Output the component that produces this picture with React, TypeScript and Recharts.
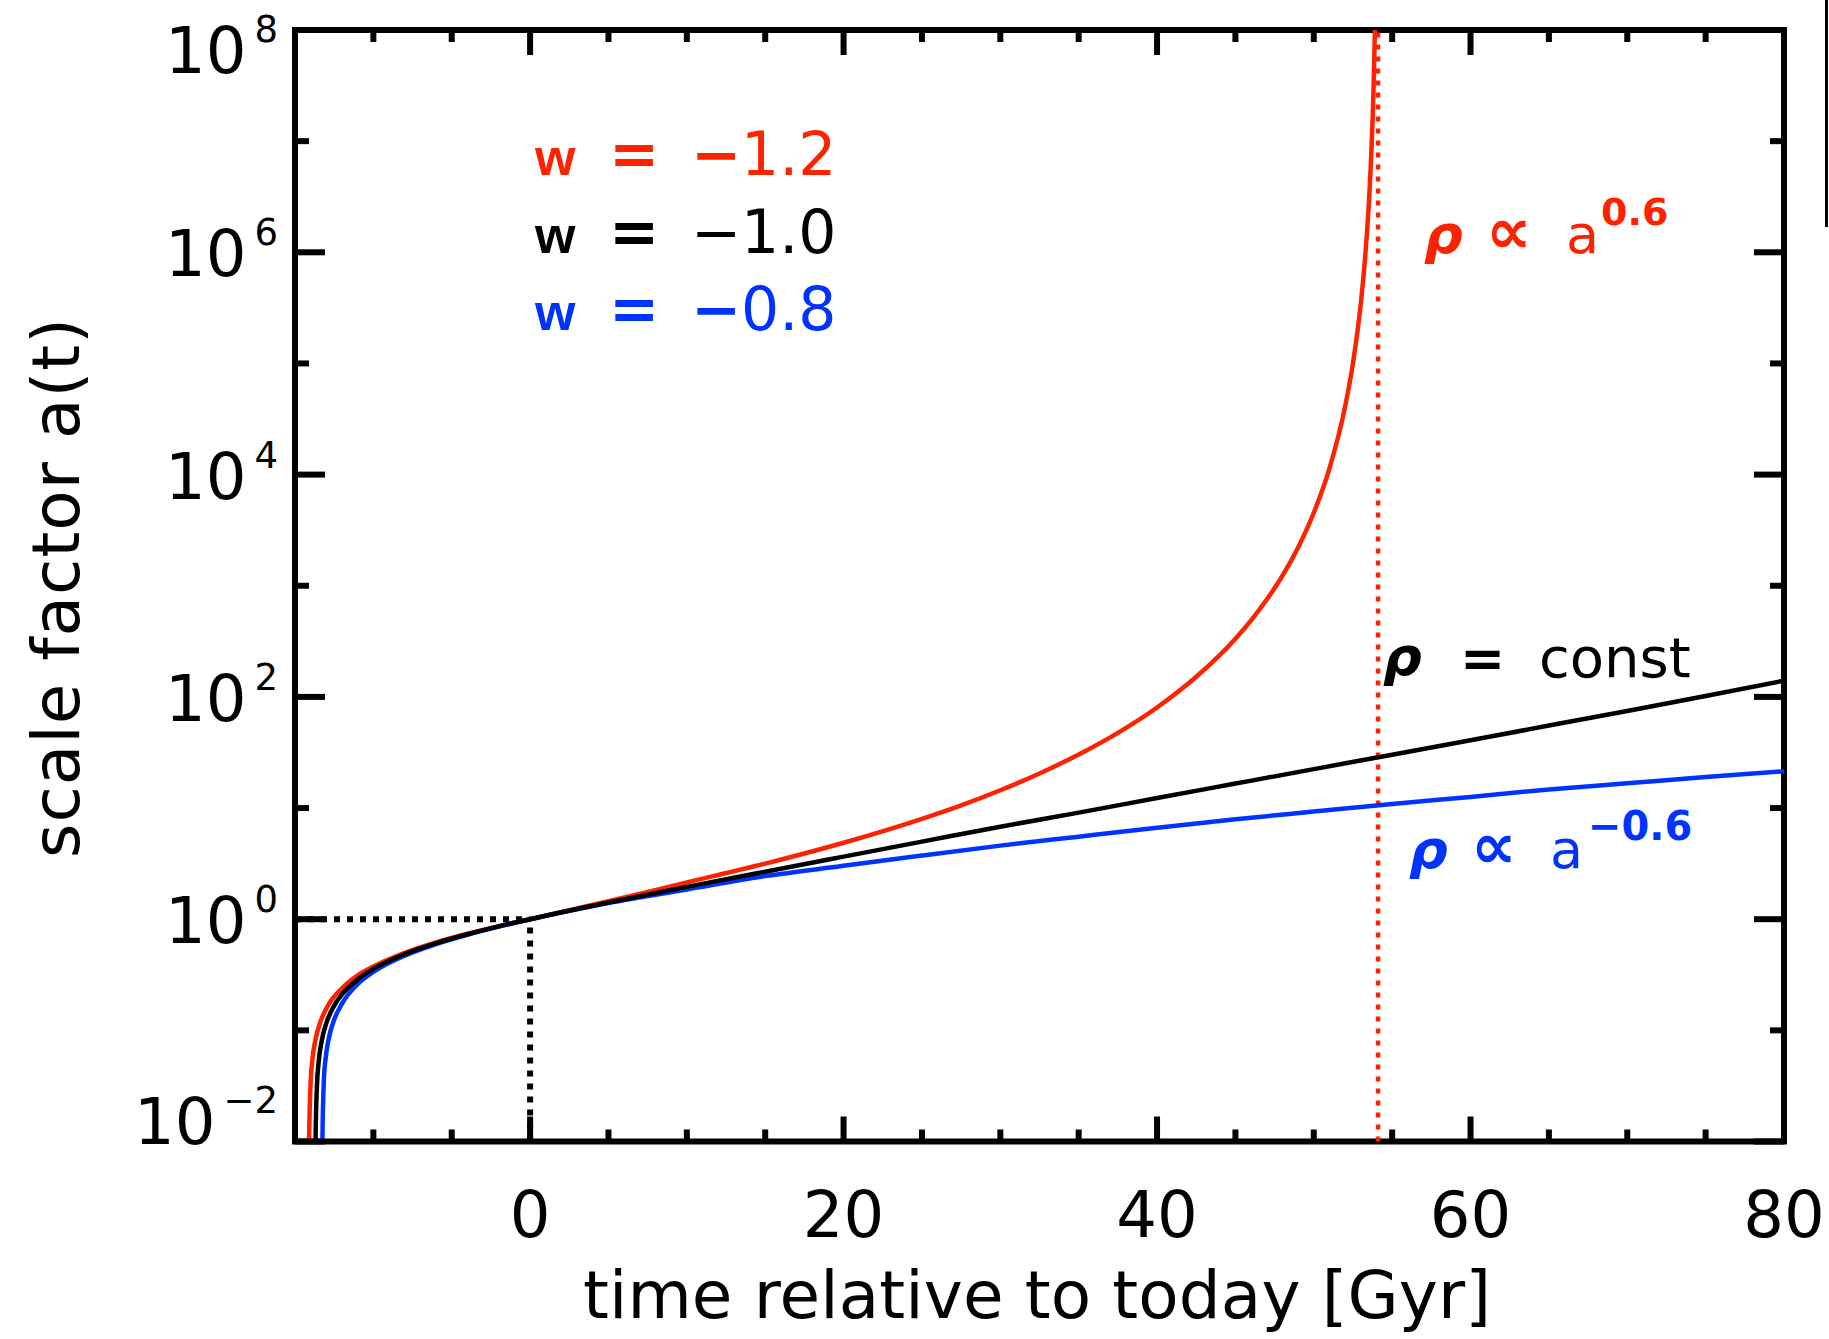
import React from 'react';
import { LineChart, Line, XAxis, YAxis, ReferenceLine, ReferenceArea } from 'recharts';

const W = 1829;
const H = 1339;
const PLOT_LEFT = 295;
const PLOT_RIGHT = 1784;
const PLOT_TOP = 30;
const PLOT_BOTTOM = 1141.5;
const X_AXIS_H = 40;
const Y_AXIS_W = 40;

const FONT = 'DejaVu Sans';
const RED = '#ff2200';
const BLUE = '#0033ff';

// w = -1.2 (big rip), time relative to today [Gyr] -> scale factor
const redTime = [-14.13, -14.1, -14.0, -13.9, -13.7, -13.4, -12.9, -12, -11, -10, -8, -6, -4, -2, 0, 5, 10, 15, 20, 25, 27.5, 30, 32.5, 35, 37.5, 40, 42.5, 45, 46, 47, 48, 49, 50, 51, 52, 52.5, 53, 53.3, 53.6, 53.8, 53.9, 54.0];
const redScale = [0.005, 0.0105, 0.035, 0.053, 0.082, 0.117, 0.167, 0.239, 0.312, 0.375, 0.498, 0.618, 0.739, 0.866, 1, 1.449, 2.143, 3.162, 4.875, 8.0, 10.57, 14.45, 20.46, 30.34, 47.53, 80.35, 151.7, 334.2, 488.7, 751.6, 1230, 2213, 4539, 1.138e4, 4.11e4, 1.01e5, 3.48e5, 1.0e6, 4.73e6, 2.59e7, 1.0e8, 1.0e9];

// w = -1.0
const blackTime = [-13.71, -13.69, -13.6, -13.5, -13.3, -13, -12.5, -12, -11, -10, -8, -6, -4, -2, 0, 5, 10, 15, 20, 25, 30, 35, 40, 45, 50, 55, 60, 65, 70, 75, 80];
const blackScale = [0.005, 0.01, 0.0318, 0.0504, 0.08, 0.1162, 0.1667, 0.2106, 0.2878, 0.3573, 0.4852, 0.6079, 0.7323, 0.8625, 1, 1.413, 1.952, 2.675, 3.655, 4.989, 6.8, 9.1, 12.3, 16.6, 22.4, 30.2, 40.8, 55.2, 74.8, 102, 140];

// w = -0.8
const blueTime = [-13.27, -13.25, -13.15, -13.05, -12.85, -12.5, -12, -11, -10, -8, -6, -4, -2, 0, 5, 10, 15, 20, 25, 30, 35, 40, 45, 50, 55, 60, 65, 70, 75, 80];
const blueScale = [0.005, 0.0102, 0.0378, 0.0553, 0.084, 0.1249, 0.1741, 0.261, 0.335, 0.47, 0.597, 0.724, 0.858, 1, 1.4, 1.85, 2.44, 3.02, 3.74, 4.59, 5.53, 6.65, 7.93, 9.29, 10.9, 12.6, 14.7, 16.7, 19.0, 21.4];

const RIP_TIME = 54.1;

const xTicks = [-10, -5, 0, 5, 10, 15, 20, 25, 30, 35, 40, 45, 50, 55, 60, 65, 70, 75, 80];
const xMajorTicks = [0, 20, 40, 60, 80];
const xMajorLabels = ['0', '20', '40', '60', '80'];

const yTicks = [0.01, 0.1, 1, 10, 100, 1e3, 1e4, 1e5, 1e6, 1e7, 1e8];
const yMajorTicks = [0.01, 1, 100, 1e4, 1e6, 1e8];
const yMajorExponents = ['\u22122', '0', '2', '4', '6', '8'];

const toSeries = (ts: number[], as: number[]) => ts.map((t, i) => ({ t, a: as[i] }));

const redData = toSeries(redTime, redScale);
const blackData = toSeries(blackTime, blackScale);
const blueData = toSeries(blueTime, blueScale);

function XTick(props: any) {
  const { x, payload } = props;
  const idx = xMajorTicks.indexOf(payload.value);
  const len = idx >= 0 ? 25 : 12;
  return (
    <g>
      <line x1={x} x2={x} y1={PLOT_BOTTOM} y2={PLOT_BOTTOM - len} stroke="#000" strokeWidth={6} />
      <line x1={x} x2={x} y1={PLOT_TOP} y2={PLOT_TOP + len} stroke="#000" strokeWidth={6} />
      {idx >= 0 && (
        <text x={x} y={1237} textAnchor="middle" fontSize={64} fontFamily={FONT} fill="#000">
          {xMajorLabels[idx]}
        </text>
      )}
    </g>
  );
}

function YTick(props: any) {
  const { y, payload } = props;
  const idx = yMajorTicks.indexOf(payload.value);
  const len = idx >= 0 ? 30 : 14;
  // top and bottom labels are pushed inside the frame
  let base = y + 24;
  if (idx === yMajorTicks.length - 1) base = y + 43;
  if (idx === 0) base = y + 2;
  return (
    <g>
      <line x1={PLOT_LEFT} x2={PLOT_LEFT + len} y1={y} y2={y} stroke="#000" strokeWidth={6} />
      <line x1={PLOT_RIGHT} x2={PLOT_RIGHT - len} y1={y} y2={y} stroke="#000" strokeWidth={6} />
      {idx >= 0 && (
        <text x={278} y={base} textAnchor="end" fontSize={64} fontFamily={FONT} fill="#000">
          10
          <tspan dx={8} dy={-31} fontSize={37}>
            {yMajorExponents[idx]}
          </tspan>
        </text>
      )}
    </g>
  );
}

function Annotations() {
  const bold = { fontFamily: FONT, fontWeight: 700 };
  const reg = { fontFamily: FONT };
  const rho = { fontFamily: FONT, fontWeight: 700, fontStyle: 'italic' as const };
  return (
    <svg width={W} height={H} style={{ position: 'absolute', left: 0, top: 0, pointerEvents: 'none' }}>
      {/* legend */}
      <g fill={RED}>
        <text x={535} y={175} fontSize={52} fontFamily="Liberation Sans" fontWeight={700}>w</text>
        <text x={609} y={175} fontSize={60} {...bold}>=</text>
        <text x={691} y={175} fontSize={60} {...bold}>{'\u2212'}</text>
        <text x={741} y={175} fontSize={60} {...reg}>1.2</text>
      </g>
      <g fill="#000">
        <text x={535} y={253} fontSize={52} fontFamily="Liberation Sans" fontWeight={700}>w</text>
        <text x={609} y={253} fontSize={60} {...bold}>=</text>
        <text x={691} y={253} fontSize={60} {...reg}>{'\u2212'}</text>
        <text x={741} y={253} fontSize={60} {...reg}>1.0</text>
      </g>
      <g fill={BLUE}>
        <text x={535} y={330} fontSize={52} fontFamily="Liberation Sans" fontWeight={700}>w</text>
        <text x={609} y={330} fontSize={60} {...bold}>=</text>
        <text x={691} y={330} fontSize={60} {...bold}>{'\u2212'}</text>
        <text x={741} y={330} fontSize={60} {...reg}>0.8</text>
      </g>

      {/* density labels */}
      <g fill={RED}>
        <text x={1424} y={253} fontSize={54} {...rho}>{'\u03c1'}</text>
        <text x={1486} y={253} fontSize={64} {...bold}>{'\u221d'}</text>
        <text x={1566} y={253} fontSize={54} {...reg}>a</text>
        <text x={1601} y={225} fontSize={38} {...bold}>0.6</text>
      </g>
      <g fill="#000">
        <text x={1383} y={675} fontSize={54} {...rho}>{'\u03c1'}</text>
        <text x={1460} y={677} fontSize={54} {...bold}>=</text>
        <text x={1539} y={677} fontSize={56} {...reg}>const</text>
      </g>
      <g fill={BLUE}>
        <text x={1409} y={868} fontSize={54} {...rho}>{'\u03c1'}</text>
        <text x={1471} y={868} fontSize={64} {...bold}>{'\u221d'}</text>
        <text x={1550} y={868} fontSize={54} {...reg}>a</text>
        <text x={1588} y={840} fontSize={40} {...bold}>{'\u22120.6'}</text>
      </g>

      {/* axis titles */}
      <text x={1037} y={1318} textAnchor="middle" fontSize={66} {...reg} textLength={908} lengthAdjust="spacing">
        time relative to today [Gyr]
      </text>
      <text
        x={79}
        y={588}
        transform="rotate(-90 79 588)"
        textAnchor="middle"
        fontSize={66}
        {...reg}
        textLength={540}
        lengthAdjust="spacing"
      >
        scale factor a(t)
      </text>

      {/* edge of the neighbouring panel */}
      <line x1={1826.5} x2={1826.5} y1={0} y2={227} stroke="#000" strokeWidth={3} />
    </svg>
  );
}

export default function App() {
  return (
    <div style={{ position: 'absolute', left: 0, top: 0, width: W, height: H, background: '#fff' }}>
      <LineChart
        width={W}
        height={H}
        margin={{
          top: PLOT_TOP,
          right: W - PLOT_RIGHT,
          bottom: H - PLOT_BOTTOM - X_AXIS_H,
          left: PLOT_LEFT - Y_AXIS_W,
        }}
      >
        <XAxis
          type="number"
          dataKey="t"
          domain={[-15, 80]}
          allowDataOverflow
          ticks={xTicks}
          interval={0}
          tick={<XTick />}
          tickLine={false}
          axisLine={false}
          height={X_AXIS_H}
        />
        <YAxis
          type="number"
          dataKey="a"
          scale="log"
          domain={[0.01, 1e8]}
          allowDataOverflow
          ticks={yTicks}
          interval={0}
          tick={<YTick />}
          tickLine={false}
          axisLine={false}
          width={Y_AXIS_W}
        />
        <ReferenceLine
          segment={[{ x: -15, y: 1 }, { x: 0, y: 1 }]}
          stroke="#000"
          strokeWidth={6}
          strokeDasharray="6 7"
        />
        <ReferenceLine
          segment={[{ x: 0, y: 0.01 }, { x: 0, y: 1 }]}
          stroke="#000"
          strokeWidth={6}
          strokeDasharray="6 7"
        />
        <ReferenceLine x={RIP_TIME} stroke={RED} strokeWidth={4.5} strokeDasharray="5 7" />
        <Line data={redData} dataKey="a" type="monotone" stroke={RED} strokeWidth={4.5} dot={false} activeDot={false} isAnimationActive={false} />
        <Line data={blueData} dataKey="a" type="monotone" stroke={BLUE} strokeWidth={4.5} dot={false} activeDot={false} isAnimationActive={false} />
        <Line data={blackData} dataKey="a" type="monotone" stroke="#000" strokeWidth={4.5} dot={false} activeDot={false} isAnimationActive={false} />
        <ReferenceArea x1={-15} x2={80} y1={0.01} y2={1e8} fill="none" fillOpacity={0} stroke="#000" strokeWidth={6} />
      </LineChart>
      <Annotations />
    </div>
  );
}
